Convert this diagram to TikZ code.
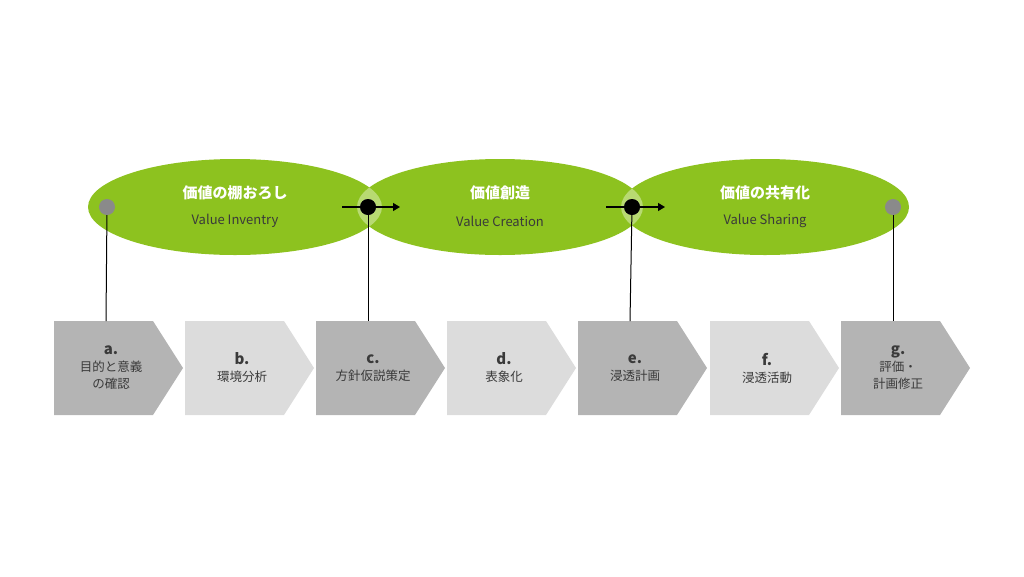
\documentclass[tikz,border=0pt]{standalone}
\usepackage{fontspec}
\setmainfont{Noto Sans CJK JP}
\usetikzlibrary{positioning,arrows.meta}
\definecolor{leaf}{HTML}{8DC21F}
\definecolor{lens}{HTML}{B8DA72}
\definecolor{pin}{HTML}{8A8A8A}
\definecolor{stepdark}{HTML}{B4B4B4}
\definecolor{steplight}{HTML}{DCDCDC}
\definecolor{ink}{HTML}{3A3A3A}
\tikzset{
  phase/.style={fill=leaf, draw=none},
  dot/.style={circle, fill=pin, minimum size=16pt, inner sep=0pt},
  stem/.style={pin, line width=1pt},
  flow/.style={pin, line width=1.2pt, -{Triangle[length=7pt,width=8pt]}},
  title/.style={white, font=\bfseries\fontsize{15}{18}\selectfont},
  subtitle/.style={ink, font=\fontsize{13}{16}\selectfont},
  steptext/.style={ink, align=center, font=\fontsize{12.5}{17}\selectfont}
}
\begin{document}
\begin{tikzpicture}[x=1pt, y=-1pt]
        \useasboundingbox (0,0) rectangle (1024,576);
        % phases
        \fill[phase] (235,207) ellipse (147 and 48);
        \fill[phase] (500,207) ellipse (143 and 48);
        \fill[phase] (765,207) ellipse (144 and 48);
        \begin{scope}
          \clip (235,207) ellipse (147 and 48);
          \fill[lens] (500,207) ellipse (143 and 48);
        \end{scope}
        \begin{scope}
          \clip (500,207) ellipse (143 and 48);
          \fill[lens] (765,207) ellipse (144 and 48);
        \end{scope}
        \node[title] (t1) at (235,193) {価値の棚おろし};
        \node[subtitle] (s1) at (235,221) {Value Inventry};
        \node[title] (t2) at (500,193) {価値創造};
        \node[subtitle] (s2) at (500,221) {Value Creation};
        \node[title] (t3) at (765,193) {価値の共有化};
        \node[subtitle] (s3) at (765,221) {Value Sharing};

        % steps
        \foreach \x/\c/\n/\t [count=\i] in {
            54/stepdark/a./{目的と意義\\の確認},
            185/steplight/b./環境分析,
            316/stepdark/c./方針仮説策定,
            447/steplight/d./表象化,
            578/stepdark/e./浸透計画,
            710/steplight/f./浸透活動,
            841/stepdark/g./{評価・\\計画修正}} {
          \fill[\c] (\x,321) -- ++(99,0) -- ++(30,47) -- ++(-30,47) -- ++(-99,0) -- cycle;
          \coordinate (top\i) at (\x+52,321);
          \node[steptext] (step\i) at (\x+57,368) {\textbf{\fontsize{15}{17}\selectfont\n}\\\t};
        }

        % pins
        \node[dot] (p1) at (107,207) {};
        \node[dot] (p2) at (368,207) {};
        \node[dot] (p3) at (632,207) {};
        \node[dot] (p4) at (893,207) {};
        \draw[stem] (p1) -- (top1);
        \draw[stem] (p2) -- (top3);
        \draw[stem] (p3) -- (top5);
        \draw[stem] (p4) -- (top7);
        \coordinate (a1) at (342,207);
        \coordinate (a2) at (400,207);
        \coordinate (b1) at (606,207);
        \coordinate (b2) at (665,207);
        \draw[flow] (a1) -- (a2);
        \draw[flow] (b1) -- (b2);
        \fill[pin] (p2) circle (8);
        \fill[pin] (p3) circle (8);
\end{tikzpicture}
\end{document}
